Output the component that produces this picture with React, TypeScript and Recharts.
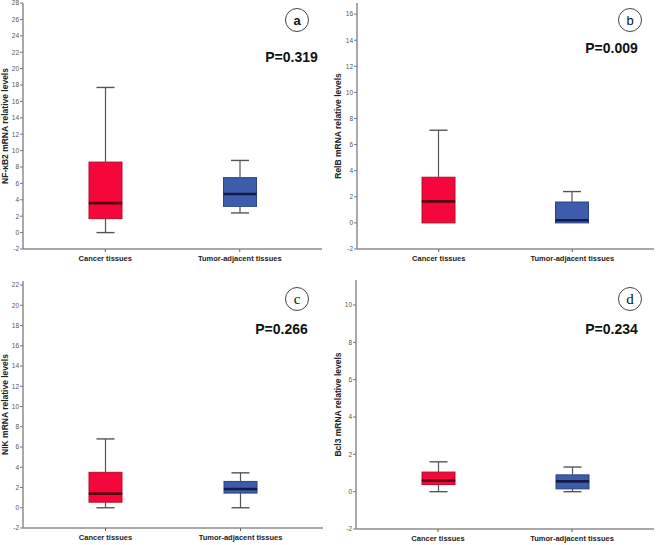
import React from "react";
import { ComposedChart, Bar, XAxis, YAxis } from "recharts";

const categories = ["Cancer tissues", "Tumor-adjacent tissues"];

// Panel a: NF-κB2
const nfkb2Min = [0, 2.4];
const nfkb2Q1 = [1.7, 3.2];
const nfkb2Median = [3.6, 4.7];
const nfkb2Q3 = [8.6, 6.7];
const nfkb2Max = [17.7, 8.8];
const nfkb2Ticks = [-2, 0, 2, 4, 6, 8, 10, 12, 14, 16, 18, 20, 22, 24, 26, 28];

// Panel b: RelB
const relbMin = [0, 0];
const relbQ1 = [0, 0];
const relbMedian = [1.65, 0.2];
const relbQ3 = [3.5, 1.6];
const relbMax = [7.1, 2.4];
const relbTicks = [-2, 0, 2, 4, 6, 8, 10, 12, 14, 16];

// Panel c: NIK
const nikMin = [0, 0];
const nikQ1 = [0.55, 1.45];
const nikMedian = [1.4, 1.85];
const nikQ3 = [3.5, 2.6];
const nikMax = [6.8, 3.45];
const nikTicks = [-2, 0, 2, 4, 6, 8, 10, 12, 14, 16, 18, 20, 22];

// Panel d: Bcl3
const bcl3Min = [0, 0];
const bcl3Q1 = [0.38, 0.15];
const bcl3Median = [0.6, 0.55];
const bcl3Q3 = [1.05, 0.9];
const bcl3Max = [1.6, 1.32];
const bcl3Ticks = [-2, 0, 2, 4, 6, 8, 10];

const FILLS = ["#F5073B", "#3D5CAB"];
const EDGES = ["#B0102E", "#2A4388"];
const MEDIANS = ["#5A0010", "#141C45"];
const WHISKER = "#555555";
const FRAME = "#8C8C8C";
const CAP_W = 18;

const buildRows = (mins: number[], q1s: number[], meds: number[], q3s: number[], maxs: number[]) =>
  categories.map((name, i) => ({
    name,
    idx: i,
    base: mins[i],
    lowW: q1s[i] - mins[i],
    boxLo: meds[i] - q1s[i],
    boxHi: q3s[i] - meds[i],
    upW: maxs[i] - q3s[i],
  }));

const WhiskerLow = (p: any) => {
  const { x, y, width, height } = p;
  if (!height || height < 0.5) return <g />;
  const cx = x + width / 2;
  const yb = y + height;
  return (
    <g>
      <line x1={cx} x2={cx} y1={y} y2={yb} stroke={WHISKER} strokeWidth={1.2} />
      <line x1={cx - CAP_W / 2} x2={cx + CAP_W / 2} y1={yb} y2={yb} stroke={WHISKER} strokeWidth={1.4} />
    </g>
  );
};

const WhiskerUp = (p: any) => {
  const { x, y, width, height } = p;
  if (!height || height < 0.5) return <g />;
  const cx = x + width / 2;
  return (
    <g>
      <line x1={cx} x2={cx} y1={y} y2={y + height} stroke={WHISKER} strokeWidth={1.2} />
      <line x1={cx - CAP_W / 2} x2={cx + CAP_W / 2} y1={y} y2={y} stroke={WHISKER} strokeWidth={1.4} />
    </g>
  );
};

const BoxLo = (p: any) => {
  const { x, y, width, height, payload } = p;
  const i = payload.idx;
  const h = Math.max(height || 0, 0);
  return <rect x={x} y={y} width={width} height={h} fill={FILLS[i]} stroke={EDGES[i]} strokeWidth={1} />;
};

const BoxHi = (p: any) => {
  const { x, y, width, height, payload } = p;
  const i = payload.idx;
  const h = Math.max(height || 0, 0);
  return (
    <g>
      <rect x={x} y={y} width={width} height={h} fill={FILLS[i]} stroke={EDGES[i]} strokeWidth={1} />
      <line x1={x} x2={x + width} y1={y + h} y2={y + h} stroke={MEDIANS[i]} strokeWidth={2.6} />
    </g>
  );
};

type PanelProps = {
  left: number;
  top: number;
  width: number;
  height: number;
  marginTop: number;
  marginRight: number;
  yAxisWidth: number;
  xAxisHeight: number;
  titleOffset: number;
  domainMax: number;
  ticks: number[];
  title: string;
  rows: any[];
};

const Panel = (pp: PanelProps) => (
  <div style={{ position: "absolute", left: pp.left, top: pp.top }}>
    <ComposedChart
      width={pp.width}
      height={pp.height}
      data={pp.rows}
      margin={{ top: pp.marginTop, right: pp.marginRight, bottom: 0, left: 0 }}
      barCategoryGap={0}
    >
      <XAxis
        dataKey="name"
        height={pp.xAxisHeight}
        padding={{ left: 15, right: 15 }}
        axisLine={{ stroke: FRAME, strokeWidth: 1.5 }}
        tickLine={{ stroke: "#666" }}
        tickSize={3}
        tickMargin={4}
        tick={{ fontSize: 7.5, fontWeight: 700, fill: "#222", fontFamily: "Liberation Sans, Arial, sans-serif" }}
        interval={0}
      />
      <XAxis
        xAxisId="top"
        dataKey="name"
        orientation="top"
        height={0}
        tick={false}
        tickLine={false}
        axisLine={{ stroke: FRAME, strokeWidth: 1.5 }}
      />
      <YAxis
        type="number"
        domain={[-2, pp.domainMax]}
        ticks={pp.ticks}
        allowDataOverflow
        width={pp.yAxisWidth}
        axisLine={{ stroke: FRAME, strokeWidth: 1.5 }}
        tickLine={{ stroke: "#777" }}
        tickSize={3}
        tickMargin={1}
        tick={{ fontSize: 6.5, fill: "#555", fontFamily: "Liberation Sans, Arial, sans-serif" }}
        interval={0}
        label={{
          value: pp.title,
          angle: -90,
          position: "insideLeft",
          offset: pp.titleOffset,
          style: {
            textAnchor: "middle",
            fontSize: 8.5,
            fontWeight: 700,
            fill: "#222",
            fontFamily: "Liberation Sans, Arial, sans-serif",
          },
        }}
      />
      <YAxis
        yAxisId="right"
        orientation="right"
        width={0}
        tick={false}
        tickLine={false}
        domain={[-2, pp.domainMax]}
        axisLine={{ stroke: FRAME, strokeWidth: 1.5 }}
      />
      <Bar dataKey="base" stackId="b" fill="none" barSize={33} isAnimationActive={false} />
      <Bar dataKey="lowW" stackId="b" barSize={33} shape={WhiskerLow} isAnimationActive={false} />
      <Bar dataKey="boxLo" stackId="b" barSize={33} shape={BoxLo} isAnimationActive={false} />
      <Bar dataKey="boxHi" stackId="b" barSize={33} shape={BoxHi} isAnimationActive={false} />
      <Bar dataKey="upW" stackId="b" barSize={33} shape={WhiskerUp} isAnimationActive={false} />
    </ComposedChart>
  </div>
);

const Badge = ({ cx, cy, letter, font, bold, pX, pY, pText }: any) => (
  <svg style={{ position: "absolute", left: 0, top: 0, pointerEvents: "none" }} width={658} height={545}>
    <circle cx={cx} cy={cy} r={11.5} fill="#fff" stroke="#444" strokeWidth={1} />
    <text
      x={cx}
      y={cy + 4.5}
      textAnchor="middle"
      fontSize={font === "serif" ? 15 : 13}
      fontWeight={bold ? 700 : 400}
      fontFamily={font === "serif" ? "Liberation Serif, Times New Roman, serif" : "Liberation Sans, Arial, sans-serif"}
      fill="#111"
    >
      {letter}
    </text>
    <text
      x={pX}
      y={pY}
      textAnchor="middle"
      fontSize={14}
      fontWeight={700}
      fontFamily="Liberation Sans, Arial, sans-serif"
      fill="#111"
    >
      {pText}
    </text>
  </svg>
);

export default function App() {
  return (
    <div style={{ position: "absolute", left: 0, top: 0, width: 658, height: 545, background: "#fff" }}>
      <Panel
        left={0} top={0} width={329} height={272} marginTop={3} marginRight={7}
        yAxisWidth={23} xAxisHeight={23} titleOffset={5} domainMax={28} ticks={nfkb2Ticks}
        title="NF-κB2 mRNA relative levels"
        rows={buildRows(nfkb2Min, nfkb2Q1, nfkb2Median, nfkb2Q3, nfkb2Max)}
      />
      <Panel
        left={329} top={0} width={329} height={272} marginTop={3} marginRight={4}
        yAxisWidth={28} xAxisHeight={23} titleOffset={9} domainMax={16.85} ticks={relbTicks}
        title="RelB mRNA relative levels"
        rows={buildRows(relbMin, relbQ1, relbMedian, relbQ3, relbMax)}
      />
      <Panel
        left={0} top={272} width={329} height={273} marginTop={9} marginRight={6}
        yAxisWidth={23} xAxisHeight={17} titleOffset={5} domainMax={22.4} ticks={nikTicks}
        title="NIK mRNA relative levels"
        rows={buildRows(nikMin, nikQ1, nikMedian, nikQ3, nikMax)}
      />
      <Panel
        left={329} top={272} width={329} height={273} marginTop={8} marginRight={4}
        yAxisWidth={27} xAxisHeight={16} titleOffset={9} domainMax={11.34} ticks={bcl3Ticks}
        title="Bcl3 mRNA relative levels"
        rows={buildRows(bcl3Min, bcl3Q1, bcl3Median, bcl3Q3, bcl3Max)}
      />
      <Badge cx={297} cy={20} letter="a" bold pX={291.5} pY={62} pText="P=0.319" />
      <Badge cx={630} cy={20} letter="b" pX={611.5} pY={53} pText="P=0.009" />
      <Badge cx={297} cy={299} letter="c" font="serif" pX={281.5} pY={334} pText="P=0.266" />
      <Badge cx={630} cy={299} letter="d" font="serif" pX={611.5} pY={334} pText="P=0.234" />
    </div>
  );
}
